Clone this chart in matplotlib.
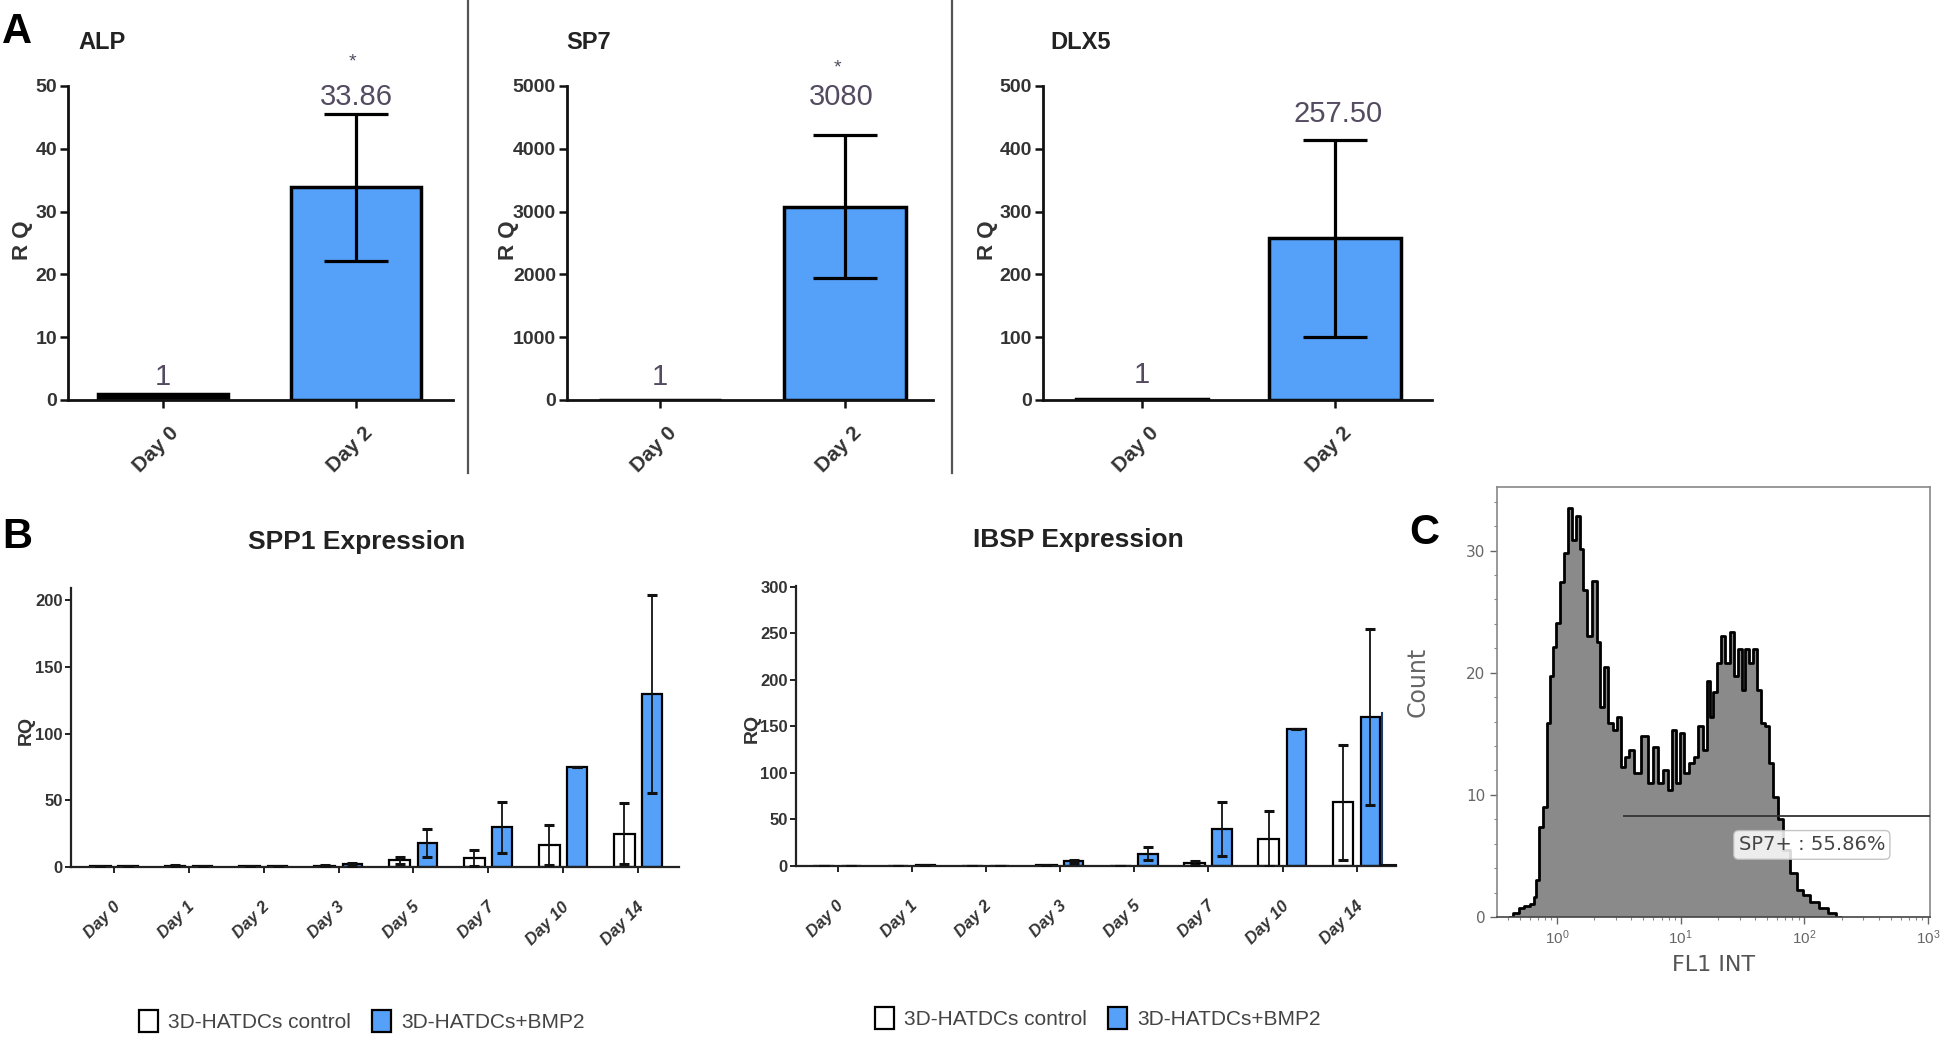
import numpy as np
import matplotlib
matplotlib.use('Agg')
import matplotlib.pyplot as plt
from matplotlib.patches import Patch
from matplotlib.lines import Line2D
from matplotlib.transforms import ScaledTranslation
from matplotlib.ticker import MultipleLocator, LogLocator, NullFormatter

W, H = 1946, 1041
NARROW = ['Liberation Sans Narrow', 'Liberation Sans', 'DejaVu Sans']
plt.rcParams['font.family'] = NARROW

# ---- panel A data ----
days_a = ['Day 0', 'Day 2']
alp = [1, 33.86]
alp_err = [0, 11.7]
sp7 = [1, 3080]
sp7_err = [0, 1140]
dlx5 = [1, 257.50]
dlx5_err = [0, 157]

# ---- panel B data ----
days_b = ['Day 0', 'Day 1', 'Day 2', 'Day 3', 'Day 5', 'Day 7', 'Day 10', 'Day 14']
spp1_ctrl = [0.5, 1.0, 0.5, 1.0, 5.0, 6.7, 16.7, 25.0]
spp1_ctrl_err = [0.3, 0.5, 0.3, 0.6, 2.7, 6.2, 15.0, 22.6]
spp1_bmp2 = [0.5, 0.5, 0.5, 2.0, 18.0, 29.6, 74.6, 129.5]
spp1_bmp2_err = [0.2, 0.2, 0.2, 1.0, 10.6, 19.4, 0.0, 74.0]
ibsp_ctrl = [0.0, 0.0, 0.0, 1.0, 0.0, 3.0, 29.4, 68.4]
ibsp_ctrl_err = [0.0, 0.0, 0.0, 0.5, 0.0, 2.0, 29.6, 62.0]
ibsp_bmp2 = [0.0, 1.0, 0.0, 5.0, 13.0, 40.0, 147.6, 160.6]
ibsp_bmp2_err = [0.0, 0.5, 0.0, 1.5, 7.0, 29.0, 0.0, 94.5]
legend_labels = ['3D-HATDCs control', '3D-HATDCs+BMP2']

# ---- panel C data (flow histogram) ----
fl1_log10 = [-0.38, -0.33, -0.29, -0.24, -0.20, -0.18, -0.164, -0.124, -0.097, -0.070,
             -0.043, -0.030, 0.011, 0.038, 0.078, 0.105, 0.132, 0.172, 0.200, 0.226,
             0.253, 0.307, 0.334, 0.361, 0.402, 0.428, 0.469, 0.504, 0.531, 0.563,
             0.604, 0.644, 0.711, 0.752, 0.792, 0.833, 0.873, 0.914, 0.940, 0.981,
             1.008, 1.048, 1.089, 1.129, 1.156, 1.196, 1.223, 1.250, 1.277, 1.304,
             1.345, 1.377, 1.412, 1.452, 1.479, 1.506, 1.533, 1.574, 1.601, 1.628,
             1.668, 1.695, 1.735, 1.762, 1.803, 1.857, 1.911, 1.964, 2.01, 2.08,
             2.16, 2.22, 2.29]
fl1_count = [0.0, 0.3, 0.7, 0.9, 1.1, 1.6, 3.0, 7.4, 9.0, 15.9,
             19.7, 22.1, 24.1, 27.4, 29.8, 33.5, 30.9, 32.8, 30.1, 26.8,
             23.0, 27.5, 22.5, 17.2, 20.5, 15.9, 15.3, 16.4, 12.3, 13.1,
             13.7, 11.8, 14.8, 11.0, 13.9, 11.0, 12.0, 10.4, 15.3, 11.0,
             15.1, 11.8, 12.6, 13.1, 15.6, 13.7, 19.3, 16.4, 18.4, 20.8,
             23.0, 20.8, 23.3, 19.7, 21.9, 18.6, 21.9, 20.8, 21.9, 18.6,
             15.9, 15.6, 12.6, 9.8, 8.0, 5.5, 3.6, 2.2, 1.8, 1.2,
             0.7, 0.3, 0.0]
gate_level = 8.3
gate_start = 3.4
gate_text = 'SP7+ : 55.86%'

BLUE = '#55A1FA'
VAL_COL = '#544b61'
TICK_COL = '#333333'

fig = plt.figure(figsize=(W / 100, H / 100), dpi=100)


def px_axes(x0, y0, x1, y1):
    return fig.add_axes([x0 / W, 1 - y1 / H, (x1 - x0) / W, (y1 - y0) / H])


def shift_labels(ax, dx, dy=0):
    off = ScaledTranslation(dx / 100, dy / 100, fig.dpi_scale_trans)
    for lab in ax.get_xticklabels():
        lab.set_transform(lab.get_transform() + off)


# ---------------- panel A ----------------
def panel_a(box, title, vals, errs, xlim, ymax, ystep, width, title_x, ylab_x,
            one_y, val_xy, val_text, star_xy):
    ax = px_axes(*box)
    x = np.arange(len(vals))
    ax.bar(x, vals, width=width, color=['black', BLUE], edgecolor='black', linewidth=2.5, zorder=2)
    ax.errorbar(x[1:], vals[1:], yerr=errs[1:], fmt='none', ecolor='black',
                elinewidth=2.3, capsize=23, capthick=2.3, zorder=3)
    ax.set_xlim(*xlim)
    ax.set_ylim(0, ymax)
    ax.yaxis.set_major_locator(MultipleLocator(ystep))
    for s in ['top', 'right']:
        ax.spines[s].set_visible(False)
    for s in ['left', 'bottom']:
        ax.spines[s].set_linewidth(2)
        ax.spines[s].set_color('#111111')
    ax.tick_params(axis='both', direction='out', length=6, width=1.8, color='#111111',
                   labelsize=14, labelcolor=TICK_COL, pad=2)
    ax.set_xticks(x)
    ax.set_xticklabels(days_a, rotation=45, ha='right', fontweight='bold', fontsize=15)
    shift_labels(ax, 20, -12)
    for lab in ax.get_yticklabels():
        lab.set_fontweight('bold')
    ax.set_ylabel('R Q', fontsize=16, fontweight='bold', color=TICK_COL)
    ax.yaxis.set_label_coords(ylab_x, 0.51)
    ax.text(title_x, 1.137, title, transform=ax.transAxes, fontsize=17,
            fontweight='bold', color='#222222', va='center', ha='left')
    ax.text(0, one_y, '1', ha='center', va='center', fontsize=21, color=VAL_COL)
    ax.text(val_xy[0], val_xy[1], val_text, ha='center', va='center', fontsize=21,
            color=VAL_COL, clip_on=False)
    if star_xy is not None:
        ax.text(star_xy[0], star_xy[1], '*', ha='center', va='center', fontsize=14,
                color=VAL_COL, clip_on=False)
    return ax


panel_a((68, 86, 453, 400), 'ALP', alp, alp_err, (-0.49, 1.5), 50, 10, 0.67,
        0.026, -0.091, 3.7, (1.0, 48.2), '33.86', (0.98, 53.8))
panel_a((567, 86, 933, 400), 'SP7', sp7, sp7_err, (-0.503, 1.476), 5000, 1000, 0.66,
        -0.003, -0.131, 366, (0.98, 4825), '3080', (0.957, 5287))
panel_a((1043, 86, 1432, 400), 'DLX5', dlx5, dlx5_err, (-0.513, 1.503), 500, 100, 0.68,
        0.018, -0.115, 40, (1.015, 455), '257.50', None)

for xd in (468, 952):
    fig.add_artist(Line2D([xd / W, xd / W], [1, 1 - 473 / H], color='#555555', lw=1.6))


# ---------------- panel B ----------------
def panel_b(box, title, ctrl, ctrl_err, bmp, bmp_err, xlim, ymax, ylim_top, ylab_x,
            leg_center):
    ax = px_axes(*box)
    x = np.arange(len(days_b))
    off = 0.185
    ax.bar(x - off, ctrl, width=0.28, color='white', edgecolor='black', linewidth=1.6, zorder=2)
    ax.bar(x + off, bmp, width=0.26, color=BLUE, edgecolor='black', linewidth=1.6, zorder=2)
    ax.errorbar(x - off, ctrl, yerr=ctrl_err, fmt='none', ecolor='#111111',
                elinewidth=1.3, capsize=3.5, capthick=2.2, zorder=3)
    ax.errorbar(x + off, bmp, yerr=bmp_err, fmt='none', ecolor='#111111',
                elinewidth=1.3, capsize=3.5, capthick=2.2, zorder=3)
    ax.set_xlim(*xlim)
    ax.set_ylim(0, ylim_top)
    ax.set_yticks(np.arange(0, ymax + 1, 50))
    for s in ['top', 'right']:
        ax.spines[s].set_visible(False)
    for s in ['left', 'bottom']:
        ax.spines[s].set_linewidth(1.6)
        ax.spines[s].set_color('#222222')
    ax.tick_params(axis='both', direction='out', length=4, width=1.4, color='#222222',
                   labelsize=12, labelcolor=TICK_COL, pad=2)
    ax.set_xticks(x)
    ax.set_xticklabels(days_b, rotation=45, ha='right', fontweight='bold', fontstyle='italic')
    shift_labels(ax, 9, -24)
    for lab in ax.get_yticklabels():
        lab.set_fontweight('bold')
    ax.set_ylabel('RQ', fontsize=14, fontweight='bold', color=TICK_COL)
    ax.yaxis.set_label_coords(ylab_x, 0.49)
    ax.text(0.47, 1.164, title, transform=ax.transAxes, fontsize=19,
            fontweight='bold', color='#222222', va='center', ha='center')
    handles = [Patch(facecolor='white', edgecolor='black', linewidth=1.6),
               Patch(facecolor=BLUE, edgecolor='black', linewidth=1.6)]
    ax.legend(handles, legend_labels, loc='center', ncol=2, frameon=False,
              bbox_to_anchor=(leg_center[0] / W, 1 - leg_center[1] / H),
              bbox_transform=fig.transFigure, fontsize=15, handlelength=0.9,
              handleheight=1.2, handletextpad=0.5, columnspacing=1.0,
              labelcolor='#444444')
    return ax


panel_b((71, 588, 679, 867), 'SPP1 Expression', spp1_ctrl, spp1_ctrl_err,
        spp1_bmp2, spp1_bmp2_err, (-0.574, 7.547), 200, 209, -0.059, (362, 1021))
panel_b((796, 586, 1396, 866), 'IBSP Expression', ibsp_ctrl, ibsp_ctrl_err,
        ibsp_bmp2, ibsp_bmp2_err, (-0.56, 7.53), 300, 301, -0.058, (1098, 1018))

# ---------------- panel C ----------------
axc = px_axes(1497, 487, 1930, 917)
xs = 10 ** np.array(fl1_log10)
axc.fill_between(xs, fl1_count, step='mid', color='#8a8a8a', lw=0, zorder=1)
axc.step(xs, fl1_count, where='mid', color='black', lw=2.0, zorder=2)
axc.set_xscale('log')
axc.set_xlim(0.327, 1037)
axc.set_ylim(0, 35.2)
axc.xaxis.set_major_locator(LogLocator(base=10, numticks=10))
axc.xaxis.set_minor_locator(LogLocator(base=10, subs=np.arange(2, 10), numticks=20))
axc.xaxis.set_minor_formatter(NullFormatter())
axc.set_yticks([0, 10, 20, 30])
axc.yaxis.set_minor_locator(MultipleLocator(2))
for s in axc.spines.values():
    s.set_color('#888888')
    s.set_linewidth(1.2)
axc.spines['bottom'].set_color('#444444')
axc.tick_params(axis='both', which='major', direction='out', length=5, width=1.0,
                color='#666666', labelsize=11, labelcolor='#666666')
axc.tick_params(axis='both', which='minor', direction='out', length=2.5, width=0.8,
                color='#888888')
for lab in axc.get_yticklabels():
    lab.set_family('DejaVu Sans')
axc.hlines(gate_level, gate_start, 1037, color='#333333', lw=1.3, zorder=3)
axc.text(10 ** 2.06, 5.9, gate_text, ha='center', va='center', fontsize=14,
         family='DejaVu Sans', color='#444444', zorder=4,
         bbox=dict(boxstyle='round,pad=0.25', fc='white', ec='#bbbbbb', alpha=0.85))
axc.set_ylabel('Count', fontsize=17, family='DejaVu Sans', color='#666666')
axc.yaxis.set_label_coords(-0.155, 0.547)
axc.set_xlabel('FL1 INT', fontsize=16, family='DejaVu Sans', color='#555555')
axc.xaxis.set_label_coords(0.501, -0.088)

# stray edge of a neighbouring image near panel C
fig.add_artist(Line2D([1382 / W, 1382 / W], [1 - 713 / H, 1 - 865 / H], color='#1f3a6e', lw=1.5))
fig.add_artist(Line2D([1380 / W, 1396 / W], [1 - 865 / H, 1 - 865 / H], color='#111111', lw=1.5))

# panel letters
fig.text(2 / W, 1 - 32 / H, 'A', fontsize=30, fontweight='bold', va='center', ha='left',
         family='Liberation Sans')
fig.text(2 / W, 1 - 537 / H, 'B', fontsize=30, fontweight='bold', va='center', ha='left',
         family='Liberation Sans')
fig.text(1409 / W, 1 - 533 / H, 'C', fontsize=30, fontweight='bold', va='center', ha='left',
         family='Liberation Sans')

fig.savefig('out.png', dpi=100)
